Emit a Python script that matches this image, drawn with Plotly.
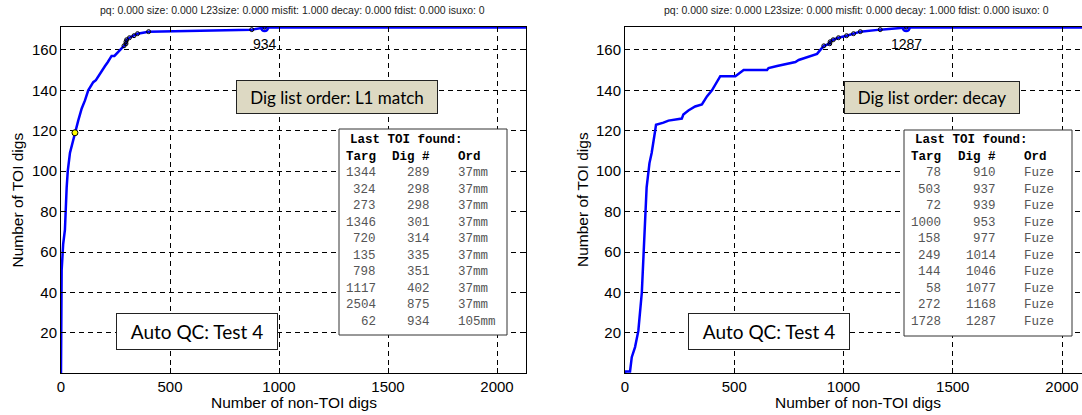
import plotly.graph_objects as go

# ---------------- data ----------------
TITLE_L = "pq: 0.000 size: 0.000 L23size: 0.000 misfit: 1.000 decay: 0.000 fdist: 0.000 isuxo: 0"
TITLE_R = "pq: 0.000 size: 0.000 L23size: 0.000 misfit: 0.000 decay: 1.000 fdist: 0.000 isuxo: 0"
ORDER_L = "Dig list order: L1 match"
ORDER_R = "Dig list order: decay"
QC_LABEL = "Auto QC: Test 4"
X_TITLE = "Number of non-TOI digs"
Y_TITLE = "Number of TOI digs"
X_TICKS = [0, 500, 1000, 1500, 2000]
Y_TICKS = [20, 40, 60, 80, 100, 120, 140, 160]

# Left panel cumulative curve (non-TOI digs, TOI digs)
left_x = [0, 1, 2, 3, 10, 18, 26, 31, 41, 52, 64, 72, 79, 95, 110, 125, 138, 148, 160, 171,
          185, 202, 215, 232, 245, 262, 278, 289, 298, 298, 301, 314, 335, 351, 402, 875, 934, 2140]
left_y = [0, 20, 40, 51, 64, 71, 92, 100, 109, 114, 119, 122, 125, 131, 135, 140, 142, 144, 145, 147,
          149, 152, 154, 157, 157, 159, 161, 162, 163, 164, 165, 166, 167, 168, 169, 170, 171, 171]

# Right panel cumulative curve
right_x = [0, 0, 23, 31, 46, 61, 77, 84, 92, 99, 112, 122, 138, 142, 176, 199, 260, 267, 290, 321,
           352, 375, 398, 413, 436, 505, 543, 650, 657, 696, 734, 780, 795, 856, 879, 894, 910,
           937, 939, 953, 977, 1014, 1046, 1077, 1168, 1287, 2140]
right_y = [0, 1, 1, 8, 13, 21, 40, 58, 73, 92, 104, 109, 120, 123, 124, 125, 126, 128, 130, 132,
           133, 137, 140, 143, 147, 147, 150, 150, 151, 152, 153, 154, 155, 157, 158, 160, 162,
           163, 164, 165, 166, 167, 168, 169, 170, 171, 171]

# "Last TOI found" tables
left_targ = [1344, 324, 273, 1346, 720, 135, 798, 1117, 2504, 62]
left_dig = [289, 298, 298, 301, 314, 335, 351, 402, 875, 934]
left_ord = ["37mm"] * 9 + ["105mm"]
left_cum = [162, 163, 164, 165, 166, 167, 168, 169, 170, 171]

right_targ = [78, 503, 72, 1000, 158, 249, 144, 58, 272, 1728]
right_dig = [910, 937, 939, 953, 977, 1014, 1046, 1077, 1168, 1287]
right_ord = ["Fuze"] * 10
right_cum = [162, 163, 164, 165, 166, 167, 168, 169, 170, 171]

# highlighted point on left curve
yellow_x = [64]
yellow_y = [119]

# ---------------- layout helpers (pixel -> paper) ----------------
W, H = 1082, 415
def xp(px):
    return px / W
def yp(py):
    return 1 - py / H

BLUE = "#0000ff"
SANS = "Liberation Sans, Arial, sans-serif"
MONO = "Liberation Mono, Courier New, monospace"
BOXF = "Lato, Calibri, sans-serif"

fig = go.Figure()

def add_panel(xs, ys, digs, cums, xa, ya):
    fig.add_trace(go.Scatter(x=xs, y=ys, mode="lines", line=dict(color=BLUE, width=2.5),
                             xaxis=xa, yaxis=ya, showlegend=False, hoverinfo="skip"))
    fig.add_trace(go.Scatter(x=digs[:-1], y=cums[:-1], mode="markers",
                             marker=dict(symbol="circle-open", size=4, color="black",
                                         line=dict(width=1, color="black")),
                             xaxis=xa, yaxis=ya, showlegend=False, hoverinfo="skip"))
    fig.add_trace(go.Scatter(x=digs[-1:], y=cums[-1:], mode="markers",
                             marker=dict(symbol="circle-open", size=7, color=BLUE,
                                         line=dict(width=2.5, color=BLUE)),
                             xaxis=xa, yaxis=ya, showlegend=False, hoverinfo="skip"))
    fig.add_trace(go.Scatter(x=digs[-1:], y=cums[-1:], mode="markers",
                             marker=dict(symbol="circle-open", size=3, color="black",
                                         line=dict(width=1, color="black")),
                             xaxis=xa, yaxis=ya, showlegend=False, hoverinfo="skip"))
    fig.add_annotation(x=digs[-1], y=cums[-1], xref=xa, yref=ya, text=str(digs[-1]),
                       showarrow=False, xanchor="center", yanchor="top", yshift=-6,
                       font=dict(family=SANS, size=14, color="black"))

add_panel(left_x, left_y, left_dig, left_cum, "x", "y")
fig.add_trace(go.Scatter(x=yellow_x, y=yellow_y, mode="markers",
                         marker=dict(symbol="circle", size=6, color="yellow",
                                     line=dict(width=1, color="black")),
                         xaxis="x", yaxis="y", showlegend=False, hoverinfo="skip"))
add_panel(right_x, right_y, right_dig, right_cum, "x2", "y2")

axis_common = dict(showline=True, linecolor="black", linewidth=1, ticks="inside", ticklen=5,
                   tickcolor="black", showgrid=True, gridcolor="black", gridwidth=0.8,
                   griddash="5px,4px", zeroline=False, automargin=False,
                   tickfont=dict(family=SANS, size=15, color="black"))

ydom = [yp(373.4), yp(27)]
fig.update_layout(
    width=W, height=H, margin=dict(l=0, r=0, t=0, b=0, autoexpand=False),
    plot_bgcolor="white", paper_bgcolor="white",
    xaxis=dict(domain=[xp(61), xp(526)], range=[0, 2133], tickvals=X_TICKS, mirror="ticks",
               anchor="y", **axis_common),
    yaxis=dict(domain=ydom, range=[0, 171.3], tickvals=Y_TICKS, mirror="ticks",
               anchor="x", **axis_common),
    xaxis2=dict(domain=[xp(625), 1.0], range=[0, (W - 625) / 0.2185], tickvals=X_TICKS,
                mirror="ticks", anchor="y2", **axis_common),
    yaxis2=dict(domain=ydom, range=[0, 171.3], tickvals=Y_TICKS, mirror=False,
                anchor="x2", **axis_common),
)

# titles
for cx, t in [(292, TITLE_L), (856, TITLE_R)]:
    fig.add_annotation(x=xp(cx), y=yp(10), xref="paper", yref="paper", text=t, showarrow=False,
                       xanchor="center", yanchor="middle",
                       font=dict(family=SANS, size=10.5, color="#222"))
# axis titles
for cx in [293.5, 858]:
    fig.add_annotation(x=xp(cx), y=yp(402), xref="paper", yref="paper", text=X_TITLE,
                       showarrow=False, xanchor="center", yanchor="middle",
                       font=dict(family=SANS, size=15.5, color="black"))
for cx in [16.5, 582]:
    fig.add_annotation(x=xp(cx), y=yp(200), xref="paper", yref="paper", text=Y_TITLE,
                       showarrow=False, xanchor="center", yanchor="middle", textangle=-90,
                       font=dict(family=SANS, size=15.5, color="black"))

# order boxes
for cx, cy, w, h, t in [(337, 97, 200, 32, ORDER_L), (932, 97.5, 174, 31, ORDER_R)]:
    fig.add_annotation(x=xp(cx), y=yp(cy), xref="paper", yref="paper", text=t, showarrow=False,
                       xanchor="center", yanchor="middle", width=w, height=h, borderpad=0,
                       bgcolor="#DDD9C3", bordercolor="#222", borderwidth=1,
                       font=dict(family=BOXF, size=17, color="black"))
# QC boxes
for cx in [197, 768.5]:
    fig.add_annotation(x=xp(cx), y=yp(331.5), xref="paper", yref="paper", text=QC_LABEL,
                       showarrow=False, xanchor="center", yanchor="middle", width=160, height=35,
                       borderpad=0, bgcolor="white", bordercolor="#222", borderwidth=1,
                       font=dict(family=BOXF, size=19, color="black"))

# tables
def add_table(x0, y0, x1, y1, lx, targ_r, dig_r, ord_l, targ, dig, ordn):
    fig.add_shape(type="rect", xref="paper", yref="paper", x0=xp(x0), x1=xp(x1),
                  y0=yp(y1), y1=yp(y0), fillcolor="white", line=dict(color="#333", width=1),
                  layer="above")
    bold = dict(family=MONO, size=12.5, color="black")
    fig.add_annotation(x=xp(lx), y=yp(140), xref="paper", yref="paper",
                       text="<b>Last TOI found:</b>", showarrow=False, xanchor="left",
                       yanchor="middle", font=bold)
    for px_, anc, txt in [(targ_r, "right", "Targ"), (dig_r, "right", "Dig #"), (ord_l, "left", "Ord")]:
        fig.add_annotation(x=xp(px_), y=yp(156.5), xref="paper", yref="paper",
                           text="<b>%s</b>" % txt, showarrow=False, xanchor=anc,
                           yanchor="middle", font=bold)
    reg = dict(family=MONO, size=12.5, color="#555")
    for i in range(len(targ)):
        ry = 173 + 16.5 * i
        for px_, anc, txt in [(targ_r, "right", str(targ[i])), (dig_r, "right", str(dig[i])),
                              (ord_l, "left", ordn[i])]:
            fig.add_annotation(x=xp(px_), y=yp(ry), xref="paper", yref="paper", text=txt,
                               showarrow=False, xanchor=anc, yanchor="middle", font=reg)

add_table(339, 129, 507, 335, 348, 378, 432, 456, left_targ, left_dig, left_ord)
add_table(904, 130, 1072, 336, 913, 943, 998, 1022, right_targ, right_dig, right_ord)

fig.write_html("out.html")
